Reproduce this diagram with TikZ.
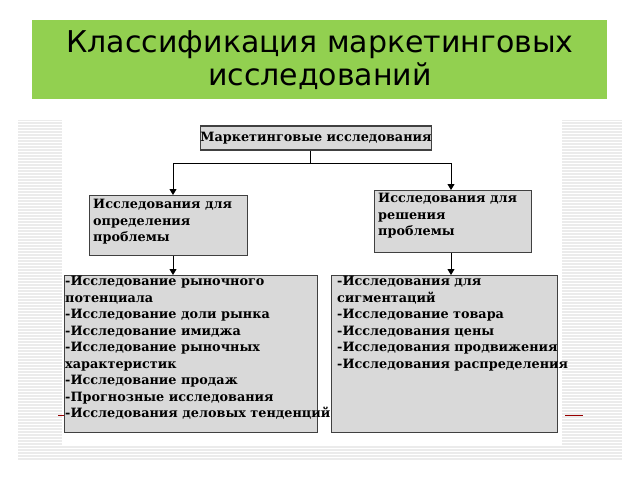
\documentclass[tikz,border=0pt]{standalone}
\usepackage{fontspec}
\setmainfont{DejaVu Serif}
\newfontfamily\titlefont{DejaVu Sans}
\usetikzlibrary{arrows.meta}
\begin{document}
\begin{tikzpicture}[x=1pt,y=-1pt,
  box/.style={draw=black!75,line width=1.2pt,fill=black!15,anchor=north west,inner sep=0pt},
  txt/.style={align=left,anchor=north west,inner sep=0pt,font=\bfseries\fontsize{12.8}{16.5}\selectfont},
  conn/.style={line width=1pt,-{Triangle[length=6pt,width=7pt]}}]
\useasboundingbox (0,0) rectangle (640,480);
\fill[white] (0,0) rectangle (640,480);
\fill[black!8] (18,120) rectangle (622,460);
\foreach \y in {121,124,...,459} \draw[white,line width=0.9pt] (18,\y) -- (622,\y);
\fill[white] (62,118) rectangle (562,445);
\fill[fill={rgb,255:red,146;green,208;blue,80}] (32,20) rectangle (607,99);
\node[font=\titlefont\fontsize{30}{33}\selectfont,align=center] (title) at (320,60) {Классификация маркетинговых\\исследований};
\draw[red!60!black,line width=0.8pt] (58,415) -- (70,415) (565,415) -- (583,415);
\node[box,minimum width=224pt,minimum height=24pt,anchor=center,font=\bfseries\fontsize{12.8}{16}\selectfont] (top) at (316,138) {Маркетинговые исследования};
\node[box,minimum width=158pt,minimum height=60pt] (lm) at (89,195) {};
\node[txt] (lmt) at (93,199) {Исследования для\\определения\\проблемы};
\node[box,minimum width=157pt,minimum height=62pt] (rm) at (374,190) {};
\node[txt] (rmt) at (378,193) {Исследования для\\решения\\проблемы};
\node[box,minimum width=253pt,minimum height=157pt] (lb) at (64,275) {};
\node[txt] (lbt) at (65,276) {-Исследование рыночного\\потенциала\\-Исследование доли рынка\\-Исследование имиджа\\-Исследование рыночных\\характеристик\\-Исследование продаж\\-Прогнозные исследования\\-Исследования деловых тенденций};
\node[box,minimum width=226pt,minimum height=157pt] (rb) at (331,275) {};
\node[txt] (rbt) at (337,276) {-Исследования для\\сигментаций\\-Исследование товара\\-Исследования цены\\-Исследования продвижения\\-Исследования распределения};
\coordinate (j) at (310,163);
\draw[line width=1pt] (top.south -| j) -- (j);
\draw[conn] (j) -| (lm.north -| 173,0);
\draw[conn] (j) -| (rm.north -| 451,0);
\draw[conn] (lm.south -| 173,0) -- (lb.north -| 173,0);
\draw[conn] (rm.south -| 451,0) -- (rb.north -| 451,0);
\end{tikzpicture}
\end{document}
